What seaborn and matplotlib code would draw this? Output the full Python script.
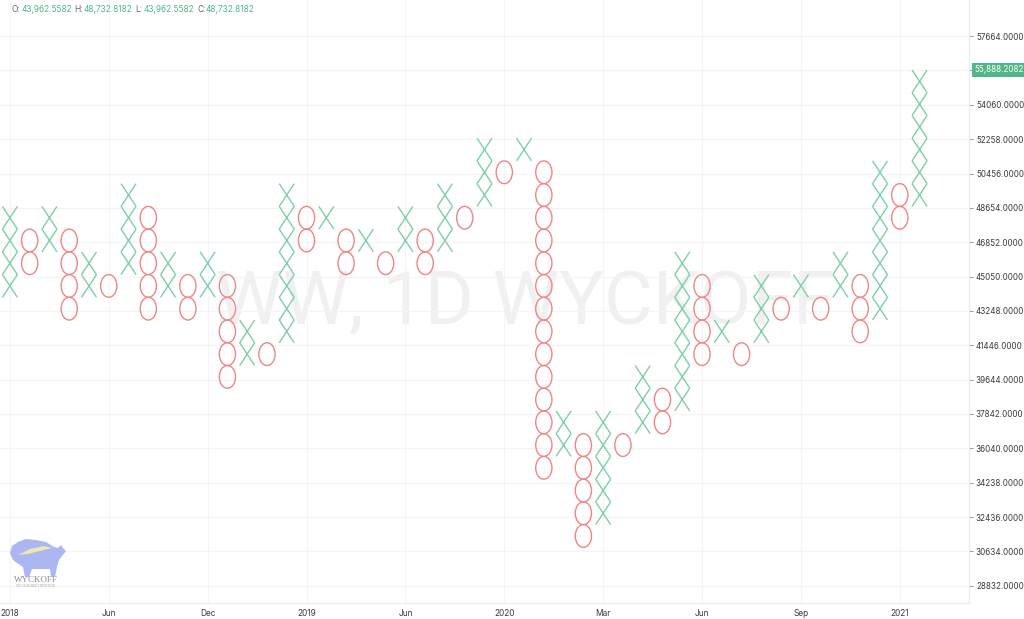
import numpy as np
import pandas as pd
import matplotlib
matplotlib.use("Agg")
import matplotlib.pyplot as plt
import seaborn as sns
from matplotlib.path import Path
from matplotlib.patches import Polygon

# ---------------- data ----------------
base_price = 48732.8182          # reference box edge
box_size = 1192.565              # point & figure box size
col_types = list("XOXOXOXOXOXOXOXOXOXOXOXOXOXOXOXOXOXOXOXOXOXOXOX")
# column extents in boxes relative to base_price (lower edge, upper edge)
box_lo = [-4, -3, -2, -5, -4, -4, -3, -5, -4, -5, -4, -8, -7, -7, -6, -2, -1, -3, -2, -3,
          -2, -3, -2, -1, 0, 1, 2, -12, -11, -15, -14, -11, -10, -10, -9, -7, -6, -7, -6, -5,
          -4, -5, -4, -6, -5, -1, 0]
box_hi = [0, -1, 0, -1, -2, -3, 1, 0, -2, -3, -2, -3, -5, -6, 1, 0, 0, -1, -1, -2,
          0, -1, 1, 0, 3, 2, 3, 2, -9, -10, -9, -10, -7, -8, -2, -3, -5, -6, -3, -4,
          -3, -4, -2, -3, 2, 1, 6]
x_tick_pos = [0, 5, 10, 15, 20, 25, 30, 35, 40, 45]
x_tick_labels = ["2018", "Jun", "Dec", "2019", "Jun", "2020", "Mar", "Jun", "Sep", "2021"]
y_ticks = [28832, 30634, 32436, 34238, 36040, 37842, 39644, 41446, 43248, 45050,
           46852, 48654, 50456, 52258, 54060, 55862, 57664]
last_price = 55888.2082
ohlc_labels = ["O:", "H:", "L:", "C:"]
ohlc_values = ["43,962.5582", "48,732.8182", "43,962.5582", "48,732.8182"]
watermark = "WW, 1D WYCKOFF"

rows = []
for i, (t, lo, hi) in enumerate(zip(col_types, box_lo, box_hi)):
    for k in range(lo, hi):
        rows.append({"col": i, "price": base_price + (k + 0.5) * box_size, "kind": t})
df = pd.DataFrame(rows)

# ---------------- style ----------------
sns.set_theme(style="white")
plt.rcParams["font.family"] = ["Inter", "DejaVu Sans"]

X_COLOR = "#7fcfa9"
O_COLOR = "#f08585"
GRID = "#f4f4f4"
TXT = "#3a3a3a"

W, H = 1024, 619
fig = plt.figure(figsize=(W / 100, H / 100), dpi=100)
ax = fig.add_axes([0, 16 / H, 969 / W, 603 / H])
ax.set_xlim(-0.5, 48.5)
ax.set_ylim(27925, 59560)

p0 = ax.transData.transform((0, base_price))
p1 = ax.transData.transform((0, base_price + box_size))
box_pt = (p1[1] - p0[1]) * 72 / fig.dpi

x_path = Path([(-0.33, -0.5), (0.33, 0.5), (-0.33, 0.5), (0.33, -0.5)],
              [Path.MOVETO, Path.LINETO, Path.MOVETO, Path.LINETO])
uc = Path.unit_circle()
o_path = Path(uc.vertices * np.array([0.70, 0.98]), uc.codes)

for kind, path, col in [("X", x_path, X_COLOR), ("O", o_path, O_COLOR)]:
    sub = df[df["kind"] == kind]
    sns.scatterplot(data=sub, x="col", y="price", marker=path, s=box_pt ** 2,
                    color=col, ax=ax, zorder=3, legend=False)
    coll = ax.collections[-1]
    coll.set_facecolor("none")
    coll.set_edgecolor(col)
    coll.set_linewidth(1.0)

ax.set_xlabel("")
ax.set_ylabel("")
ax.set_xticks(x_tick_pos)
ax.set_xticklabels(x_tick_labels)
ax.set_yticks(y_ticks)
ax.set_yticklabels([f"{v:.4f}" for v in y_ticks])
ax.yaxis.tick_right()
ax.grid(True, color=GRID, lw=0.8)
ax.set_axisbelow(True)
ax.tick_params(axis="x", length=0, pad=4, labelsize=6, labelcolor=TXT)
ax.tick_params(axis="y", length=3, width=0.6, color="#888888", pad=2,
               labelsize=5.8, labelcolor=TXT, right=True, left=False)
for s in ["left", "top"]:
    ax.spines[s].set_visible(False)
for s in ["right", "bottom"]:
    ax.spines[s].set_color("#ebebeb")
    ax.spines[s].set_linewidth(0.8)

# watermark
ax.text(0.542, 0.496, watermark, transform=ax.transAxes, ha="center", va="center",
        fontsize=54, color="#f0f0f0", zorder=0, family=["Roboto", "DejaVu Sans"])

# last price label
ax.annotate(f"{last_price:,.4f}", xy=(1.0, last_price), xycoords=("axes fraction", "data"),
            xytext=(4, 0), textcoords="offset points", ha="left", va="center",
            fontsize=5.8, color="white", zorder=10, annotation_clip=False,
            bbox=dict(boxstyle="square,pad=0.35", fc="#52b788", ec="none"))

# OHLC header
xs_lab = [12, 74, 135, 197]
for xl, lab, val in zip(xs_lab, ohlc_labels, ohlc_values):
    fig.text(xl / W, 1 - 10 / H, lab, fontsize=6, color="#666666", va="center", ha="left")
    fig.text((xl + 9) / W, 1 - 10 / H, val, fontsize=6, color="#4cb88a", va="center", ha="left")

# logo (decorative)
def fp(pts):
    return [(x / W, 1 - y / H) for x, y in pts]

bull = [(10, 553), (12, 546), (18, 542), (26, 539), (36, 540), (46, 542), (54, 547), (58, 548),
        (61, 545), (63, 548), (66, 551), (62, 556), (59, 560), (57, 567), (55, 577), (51, 577),
        (50, 569), (32, 569), (29, 577), (25, 577), (23, 567), (17, 563), (13, 560)]
fig.patches.append(Polygon(fp(bull), closed=True, transform=fig.transFigure,
                           fc="#a3aef2", ec="none", alpha=0.9, zorder=5))
streak = [(18, 555), (30, 549), (44, 546), (52, 548), (40, 551), (28, 554)]
fig.patches.append(Polygon(fp(streak), closed=True, transform=fig.transFigure,
                           fc="#efe6b0", ec="none", zorder=6))
fig.text(36 / W, 1 - 580 / H, "WYCKOFF", fontsize=6.5, color="#8a8a8a", ha="center",
         va="center", family=["Liberation Serif", "DejaVu Serif"])
fig.text(36 / W, 1 - 586 / H, "STOCK MARKET INSTITUTE", fontsize=2.2, color="#9a9a9a",
         ha="center", va="center", family=["Liberation Serif", "DejaVu Serif"])

fig.savefig("out.png", dpi=100)
